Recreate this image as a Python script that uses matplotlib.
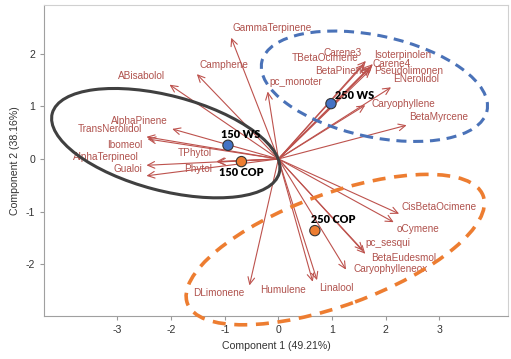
import matplotlib.pyplot as plt
from matplotlib.patches import Ellipse

plt.rcParams['font.family'] = ['Liberation Sans', 'DejaVu Sans']
plt.rcParams['axes.unicode_minus'] = False

# variable loadings (arrow tips)
variables = ['GammaTerpinene', 'Camphene', 'ABisabolol', 'pc_monoter',
             'AlphaPinene', 'TransNerolidol', 'Ibomeol', 'TPhytol', 'Phytol',
             'AlphaTerpineol', 'Gualoi',
             'Carene3', 'TBetaOcimene', 'BetaPinene', 'Isoterpinolen',
             'Carene4', 'Pseudolimonen', 'ENerolidol', 'Caryophyllene',
             'BetaMyrcene',
             'CisBetaOcimene', 'oCymene', 'pc_sesqui', 'BetaEudesmol',
             'Caryophylleneox', 'Linalool', 'Humulene', 'DLimonene']
load_x = [-0.88, -1.52, -2.03, -0.20,
          -1.98, -2.46, -2.44, -1.16, -1.14,
          -2.46, -2.46,
          1.63, 1.60, 1.70, 1.76,
          1.74, 1.72, 2.10, 1.62,
          2.39,
          2.25, 2.15, 1.58, 1.62,
          1.26, 0.72, 0.64, -0.54]
load_y = [2.30, 1.61, 1.41, 1.28,
          0.57, 0.42, 0.38, -0.05, -0.06,
          -0.12, -0.32,
          1.86, 1.80, 1.74, 1.80,
          1.76, 1.70, 1.36, 1.02,
          0.64,
          -1.04, -1.20, -1.74, -1.80,
          -2.10, -2.30, -2.33, -2.40]

# where each variable name sits
label_x = [-0.11, -1.01, -2.56, 0.33,
           -2.60, -3.14, -2.87, -1.56, -1.50,
           -3.21, -2.81,
           1.20, 0.87, 1.16, 2.31,
           2.11, 2.43, 2.57, 2.33,
           2.98,
           3.00, 2.61, 2.04, 2.34,
           2.09, 1.09, 0.09, -1.11]
label_y = [2.48, 1.79, 1.57, 1.46,
           0.72, 0.57, 0.26, 0.11, -0.19,
           0.04, -0.19,
           2.02, 1.91, 1.66, 1.98,
           1.81, 1.66, 1.51, 1.04,
           0.79,
           -0.91, -1.32, -1.60, -1.87,
           -2.08, -2.45, -2.49, -2.55]

# sample scores
samples = ['150 WS', '150 COP', '250 WS', '250 COP']
score_x = [-0.94, -0.69, 0.98, 0.68]
score_y = [0.26, -0.05, 1.05, -1.36]
score_col = ['#4472c4', '#ed7d31', '#4472c4', '#ed7d31']
slabel_x = [-0.71, -0.70, 1.42, 1.02]
slabel_y = [0.47, -0.26, 1.21, -1.14]

arrow_col = '#bd524d'
text_col = '#b0524d'

fig = plt.figure(figsize=(5.11, 3.59), dpi=100)
ax = fig.add_axes([0.0861, 0.1198, 0.908, 0.866])

for name, x, y, lx, ly in zip(variables, load_x, load_y, label_x, label_y):
    ax.annotate('', xy=(x, y), xytext=(0, 0),
                arrowprops=dict(arrowstyle='->,head_length=0.5,head_width=0.24',
                                color=arrow_col, lw=0.8, shrinkA=0, shrinkB=0,
                                mutation_scale=10))
    ax.text(lx, ly, name, color=text_col, fontsize=7.2, ha='center', va='center')

# group ellipses
ax.add_patch(Ellipse((-2.10, 0.30), 2 * 2.19, 2 * 0.90, angle=-15,
                     fill=False, ec='#404040', lw=2.2, zorder=4))
ax.add_patch(Ellipse((1.79, 1.38), 2 * 2.15, 2 * 0.96, angle=-12.6,
                     fill=False, ec='#4a72b8', lw=2.2, ls=(0, (3.3, 2.2)),
                     zorder=4))
ax.add_patch(Ellipse((1.06, -1.72), 2 * 2.94, 2 * 1.06, angle=20.4,
                     fill=False, ec='#ed7d31', lw=2.6, ls=(0, (3.6, 2.4)),
                     zorder=4, clip_on=False))

ax.scatter(score_x, score_y, s=55, c=score_col, edgecolors='#333333',
           linewidths=0.8, zorder=6)
for s, lx, ly in zip(samples, slabel_x, slabel_y):
    ax.text(lx, ly, s, fontsize=7.8, fontweight='heavy', color='black',
            ha='center', va='center', family=['Lato', 'DejaVu Sans'], zorder=7)

ax.set_xlim(-4.37, 4.28)
ax.set_ylim(-2.98, 2.92)
ax.set_xticks([-3, -2, -1, 0, 1, 2, 3])
ax.set_yticks([-2, -1, 0, 1, 2])
ax.tick_params(colors='#999999', labelcolor='#333333', labelsize=7.6, length=3)
ax.set_xlabel('Component 1 (49.21%)', fontsize=7.6, color='#333333', labelpad=4)
ax.set_ylabel('Component 2 (38.16%)', fontsize=7.6, color='#333333', labelpad=4)
for side in ['left', 'bottom']:
    ax.spines[side].set_color('#a0a0a0')
for side in ['top', 'right']:
    ax.spines[side].set_color('#d0d0d0')

fig.savefig('out.png', dpi=100)
